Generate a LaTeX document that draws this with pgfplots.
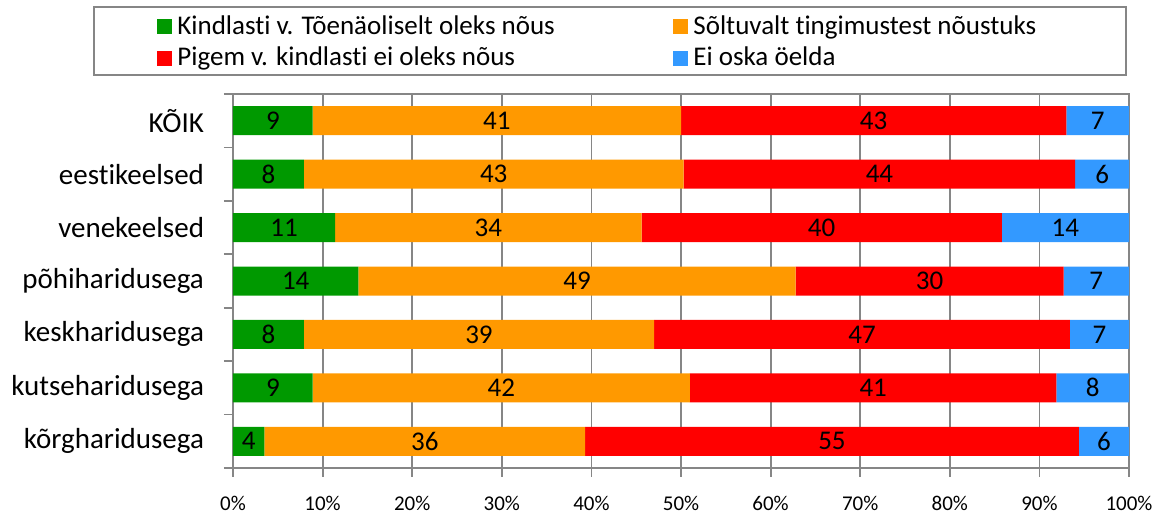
\documentclass[border=0pt]{standalone}
\usepackage{pgfplots}
\pgfplotsset{compat=1.18}
\usepackage{fontspec}
\setmainfont{Carlito}[Ligatures={NoCommon}]
\definecolor{cgreen}{HTML}{009900}
\definecolor{corange}{HTML}{FF9900}
\definecolor{cred}{HTML}{FF0000}
\definecolor{cblue}{HTML}{3399FF}
\definecolor{axgray}{HTML}{868686}
\begin{document}
\begin{tikzpicture}
\useasboundingbox (0,0) rectangle (578.5pt,257pt);
\draw[axgray, line width=0.9pt] (47pt,219.5pt) rectangle (563pt,253.5pt);
\begin{axis}[
  at={(116.5pt,23pt)}, anchor=south west,
  scale only axis, width=448pt, height=187pt,
  xbar stacked, bar width=14.5pt,
  xmin=0, xmax=100, ymin=-0.5, ymax=6.5,
  axis line style={axgray, line width=0.9pt},
  xtick={0,10,...,100},
  xticklabels={0\%,10\%,20\%,30\%,40\%,50\%,60\%,70\%,80\%,90\%,100\%},
  x tick label style={font=\fontsize{10.5}{12}\selectfont, yshift=-6pt},
  xmajorgrids, grid style={axgray, line width=0.9pt},
  tick style={axgray, line width=0.9pt},
  tick align=outside, tick pos=left, major tick length=4.5pt,
  ytick={-0.5,0.5,...,6.5},
  yticklabels={kõrgharidusega,kutseharidusega,keskharidusega,põhiharidusega,venekeelsed,eestikeelsed,KÕIK,{}},
  y tick label style={font=\fontsize{14.5}{16}\selectfont, yshift=13.36pt, xshift=-6.5pt},
  legend image code/.code={\fill[#1] (0pt,-3.75pt) rectangle (7.5pt,3.75pt);},
  legend columns=2,
  legend style={at={(rel axis cs:-0.0848,1.219)}, anchor=north west, draw=none, fill=none,
    font=\fontsize{13.5}{15}\selectfont, inner sep=0pt,
    nodes={inner sep=1.5pt}, row sep=2pt},
  legend cell align=left,
]
\addplot[fill=cgreen, draw=none] coordinates {(3.5,0) (8.9,1) (7.9,2) (14.0,3) (11.4,4) (7.9,5) (8.9,6)};
\addlegendentry{\makebox[247.5pt][l]{\hspace*{1pt}Kindlasti v. Tõenäoliselt oleks nõus}}
\addplot[fill=corange, draw=none] coordinates {(35.8,0) (42.1,1) (39.1,2) (48.8,3) (34.2,4) (42.4,5) (41.1,6)};
\addlegendentry{\hspace*{1pt}Sõltuvalt tingimustest nõustuks}
\addplot[fill=cred, draw=none] coordinates {(55.1,0) (40.9,1) (46.4,2) (29.9,3) (40.2,4) (43.7,5) (43.0,6)};
\addlegendentry{\makebox[247.5pt][l]{\hspace*{1pt}Pigem v. kindlasti ei oleks nõus}}
\addplot[fill=cblue, draw=none] coordinates {(5.6,0) (8.1,1) (6.6,2) (7.3,3) (14.2,4) (6.0,5) (7.0,6)};
\addlegendentry{\hspace*{1pt}Ei oska öelda}
\end{axis}
\begin{axis}[
  at={(116.5pt,23pt)}, anchor=south west,
  scale only axis, width=448pt, height=187pt,
  xmin=0, xmax=100, ymin=-0.5, ymax=6.5,
  hide axis,
]
\addplot[draw=none, mark=none, nodes near coords, point meta=explicit symbolic,
  every node near coord/.append style={anchor=center, font=\fontsize{13.5}{15}\selectfont, text=black}]
  coordinates {
  (4.45,6) [9] (29.45,6) [41] (71.5,6) [43] (96.5,6) [7]
  (3.95,5) [8] (29.1,5) [43] (72.15,5) [44] (97,5) [6]
  (5.7,4) [11] (28.5,4) [34] (65.7,4) [40] (92.9,4) [14]
  (7.0,3) [14] (38.4,3) [49] (77.75,3) [30] (96.35,3) [7]
  (3.95,2) [8] (27.45,2) [39] (70.2,2) [47] (96.7,2) [7]
  (4.45,1) [9] (29.95,1) [42] (71.45,1) [41] (95.95,1) [8]
  (1.75,0) [4] (21.4,0) [36] (66.85,0) [55] (97.2,0) [6]
  };
\end{axis}
\end{tikzpicture}
\end{document}
